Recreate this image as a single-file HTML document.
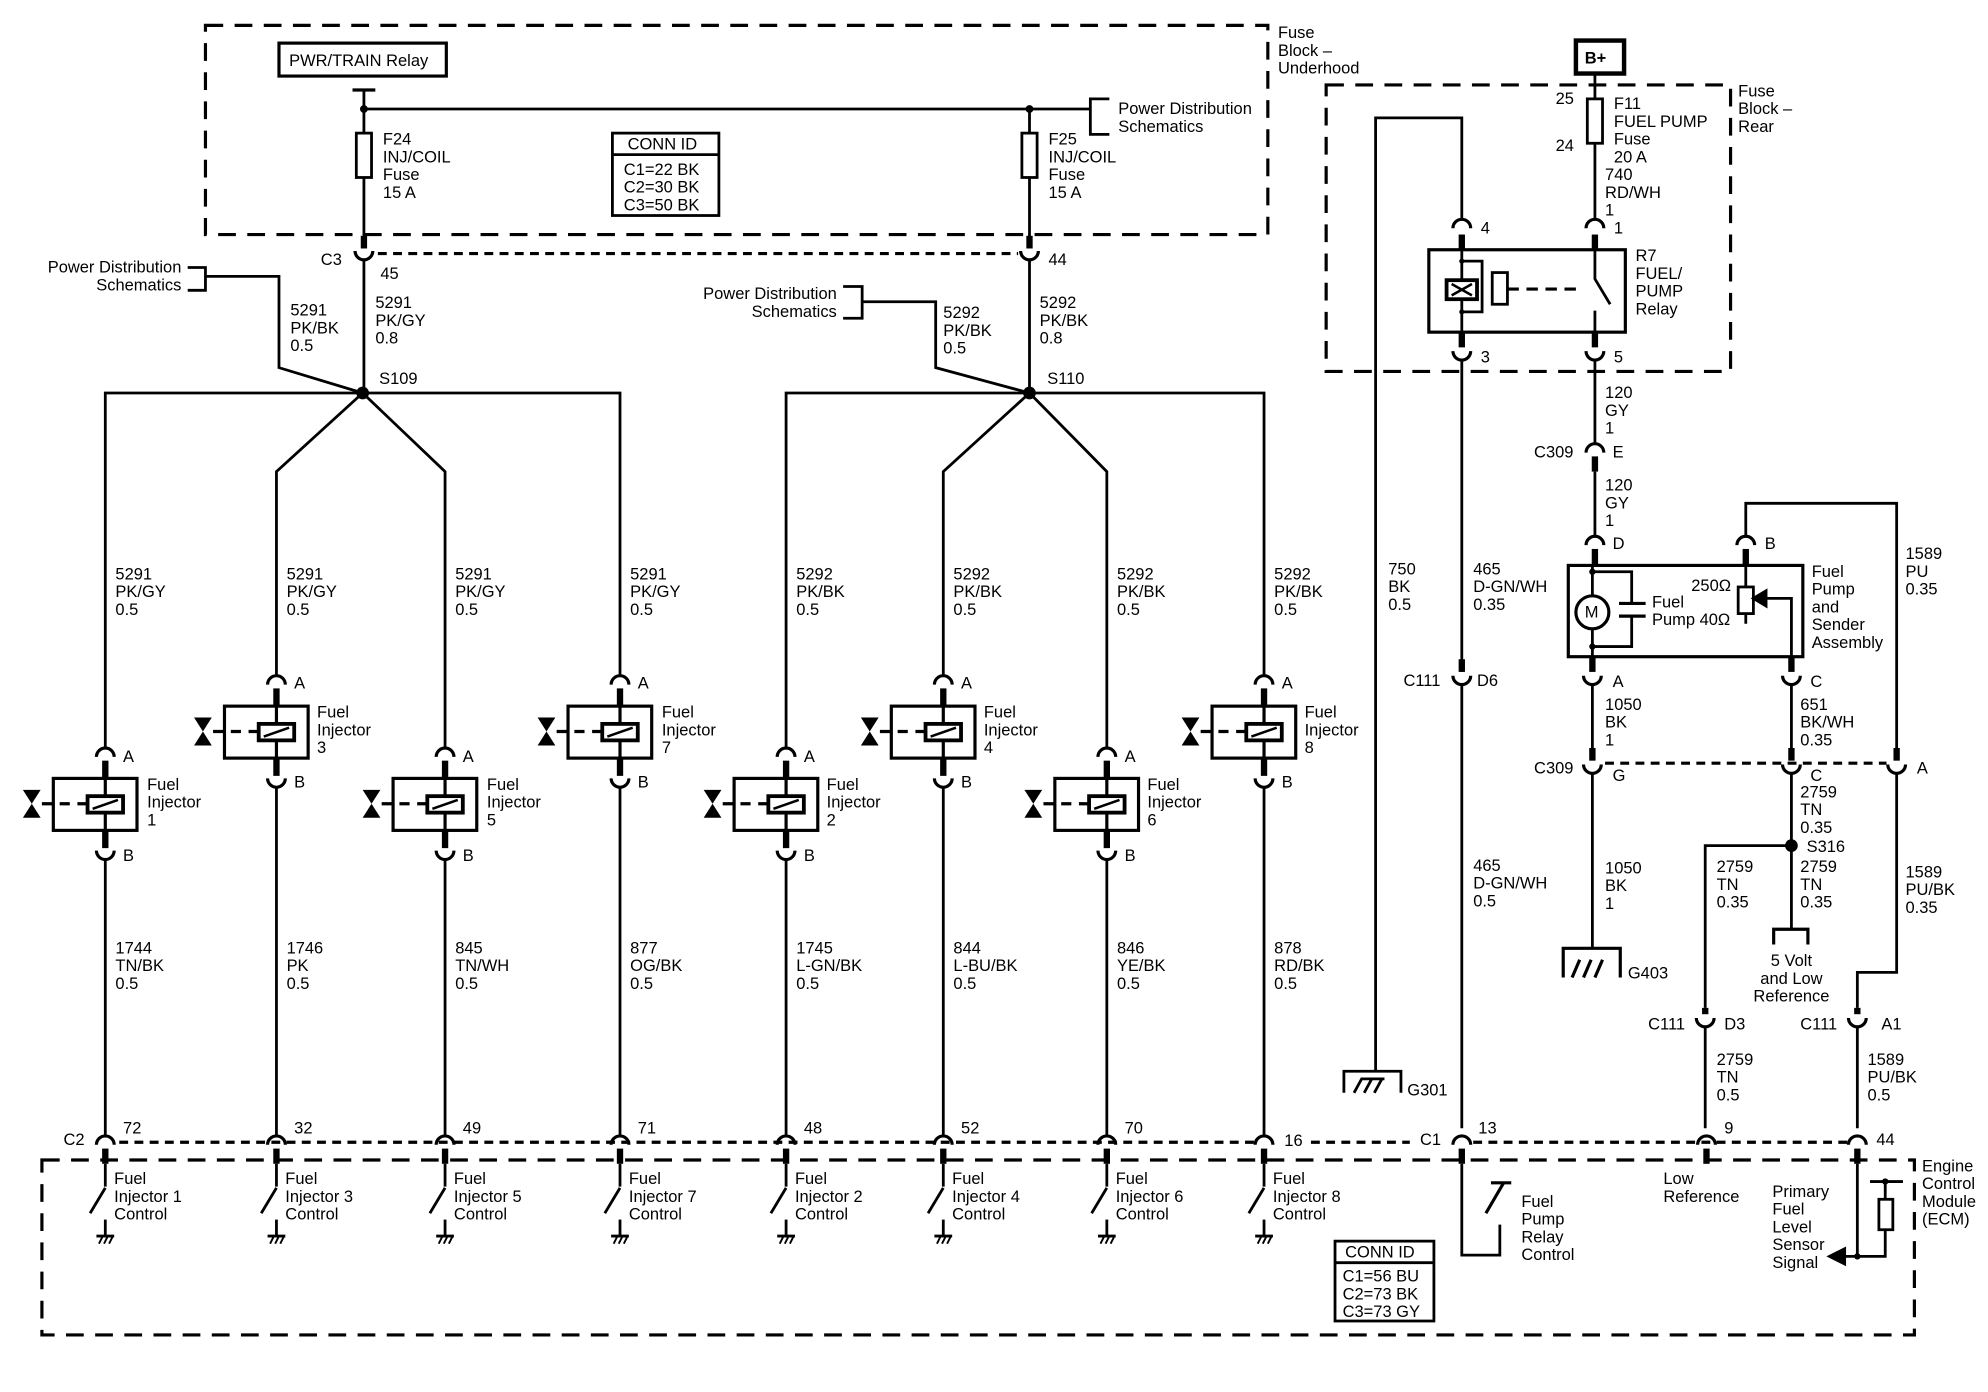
<!DOCTYPE html>
<html><head><meta charset="utf-8"><style>
html,body{margin:0;padding:0;background:#fff;}
svg{display:block;}
text{font-family:"Liberation Sans",Arial,sans-serif;font-size:13px;fill:#000;}
</style></head><body>
<svg width="1988" height="1392" viewBox="0 0 1568 1098" xmlns="http://www.w3.org/2000/svg">
<defs>
<g id="inj" fill="none" stroke="#000">
<path d="M-7 7 A7 7 0 0 1 7 7" stroke-width="2.5"/>
<line x1="0" y1="10" x2="0" y2="24" stroke-width="5"/>
<rect x="-41" y="24" width="66" height="41" stroke-width="2.5"/>
<line x1="0" y1="24" x2="0" y2="65" stroke-width="2.5"/>
<line x1="-50" y1="44" x2="-14" y2="44" stroke-width="2.5" stroke-dasharray="8 6"/>
<rect x="-14" y="38" width="28" height="13" fill="#fff" stroke-width="3"/>
<line x1="-10" y1="48" x2="10" y2="41" stroke-width="2"/>
<polygon points="-65,33 -51,33 -58,44" fill="#000" stroke="none"/>
<polygon points="-65,55 -51,55 -58,44" fill="#000" stroke="none"/>
<line x1="0" y1="65" x2="0" y2="79" stroke-width="5"/>
<path d="M-7 81 A7 7 0 0 0 7 81" stroke-width="2.5"/>
</g>
<g id="ca" fill="none" stroke="#000">
<path d="M-7 7 A7 7 0 0 1 7 7" stroke-width="2.5"/>
<line x1="0" y1="10" x2="0" y2="22" stroke-width="5"/>
</g>
<g id="sw" fill="none" stroke="#000" stroke-width="2.2">
<line x1="0" y1="918" x2="0" y2="936"/>
<line x1="0" y1="937" x2="-12" y2="957"/>
<line x1="0" y1="962" x2="0" y2="975"/>
<line x1="-7" y1="975" x2="7" y2="975"/>
<line x1="-5" y1="981" x2="-2" y2="975" stroke-width="1.5"/>
<line x1="-1" y1="981" x2="2" y2="975" stroke-width="1.5"/>
<line x1="3" y1="981" x2="6" y2="975" stroke-width="1.5"/>
</g>
</defs>

<g fill="none" stroke="#000" stroke-width="2.2">
<rect x="162" y="20" width="838" height="165" stroke-dasharray="14 9" stroke-width="2.5"/>
<rect x="220" y="34" width="132" height="26" stroke-width="2.5"/>
<line x1="278" y1="71" x2="296" y2="71" stroke-width="2.5"/>
<line x1="287" y1="71" x2="287" y2="192"/>
<line x1="287" y1="86" x2="860" y2="86"/>
<line x1="812" y1="86" x2="812" y2="192"/>
<circle cx="287" cy="86" r="2" fill="#000"/><circle cx="812" cy="86" r="2" fill="#000"/>
<rect x="281" y="105" width="12" height="35" fill="#fff"/>
<rect x="806" y="105" width="12" height="35" fill="#fff"/>
<rect x="483" y="105" width="84" height="65" stroke-width="2.2"/>
<line x1="483" y1="122" x2="567" y2="122"/>
<path d="M860 86 V78 H875 M860 86 V106 H875" />
<line x1="287" y1="186" x2="287" y2="196" stroke-width="5"/>
<path d="M280 198 A7 7 0 0 0 294 198" stroke-width="2.5"/>
<line x1="812" y1="186" x2="812" y2="196" stroke-width="5"/>
<path d="M805 198 A7 7 0 0 0 819 198" stroke-width="2.5"/>
<line x1="298" y1="200" x2="803" y2="200" stroke-dasharray="7 5" stroke-width="2.5"/>
<line x1="287" y1="205" x2="287" y2="310"/>
<line x1="812" y1="205" x2="812" y2="310"/>
<path d="M148 211 H162 V229 H148 M162 218 H220 V290 L286 310"/>
<path d="M665 226 H680 V251 H665 M680 238 H738 V290 L812 310"/>
<path d="M83 590 V310 H489 V533"/>
<path d="M286 310 L218 372 V533 M286 310 L351 372 V590"/>
<path d="M620 590 V310 H997 V533"/>
<path d="M812 310 L744 372 V533 M812 310 L873 372 V590"/>
</g>
<circle cx="286" cy="310" r="5" fill="#000"/>
<circle cx="812" cy="310" r="5" fill="#000"/>

<use href="#inj" x="83" y="590"/>
<use href="#inj" x="218" y="533"/>
<use href="#inj" x="351" y="590"/>
<use href="#inj" x="489" y="533"/>
<use href="#inj" x="620" y="590"/>
<use href="#inj" x="744" y="533"/>
<use href="#inj" x="873" y="590"/>
<use href="#inj" x="997" y="533"/>
<g stroke="#000" stroke-width="2.2">
<line x1="83" y1="678" x2="83" y2="896"/><line x1="218" y1="621" x2="218" y2="896"/>
<line x1="351" y1="678" x2="351" y2="896"/><line x1="489" y1="621" x2="489" y2="896"/>
<line x1="620" y1="678" x2="620" y2="896"/><line x1="744" y1="621" x2="744" y2="896"/>
<line x1="873" y1="678" x2="873" y2="896"/><line x1="997" y1="621" x2="997" y2="896"/>
</g>
<use href="#ca" x="83" y="896"/><use href="#ca" x="218" y="896"/><use href="#ca" x="351" y="896"/><use href="#ca" x="489" y="896"/>
<use href="#ca" x="620" y="896"/><use href="#ca" x="744" y="896"/><use href="#ca" x="873" y="896"/><use href="#ca" x="997" y="896"/>
<use href="#ca" x="1153" y="896"/><use href="#ca" x="1346" y="896"/><use href="#ca" x="1465" y="896"/>
<g stroke="#000" stroke-width="2.5" stroke-dasharray="7 5">
<line x1="94" y1="901" x2="990" y2="901"/>
<line x1="1034" y1="901" x2="1112" y2="901"/>
<line x1="1162" y1="901" x2="1458" y2="901"/>
</g>
<use href="#sw" x="83"/><use href="#sw" x="218"/><use href="#sw" x="351"/><use href="#sw" x="489"/>
<use href="#sw" x="620"/><use href="#sw" x="744"/><use href="#sw" x="873"/><use href="#sw" x="997"/>

<g fill="none" stroke="#000" stroke-width="2.5">
<rect x="33" y="915" width="1477" height="138" stroke-dasharray="14 9"/>
<rect x="1053" y="979" width="78" height="63" stroke-width="2.2"/>
<line x1="1053" y1="996" x2="1131" y2="996" stroke-width="2.2"/>
</g>

<g fill="none" stroke="#000" stroke-width="2.2">
<rect x="1243" y="32" width="38" height="26" stroke-width="3.5"/>
<rect x="1046" y="67" width="319" height="226" stroke-dasharray="14 9" stroke-width="2.5"/>
<line x1="1258" y1="58" x2="1258" y2="172"/>
<rect x="1252" y="78" width="12" height="35" fill="#fff"/>
<path d="M1153 172 V93 H1085 V845"/>
<path d="M1060 862 V845 H1105 V862 M1068 862 L1074 851 H1092 M1076 862 L1082 851 M1084 862 L1090 851"/>
<path d="M1146 180 A7 7 0 0 1 1160 180 M1251 180 A7 7 0 0 1 1265 180" stroke-width="2.5"/>
<line x1="1153" y1="185" x2="1153" y2="270" stroke-width="2.2"/>
<line x1="1153" y1="185" x2="1153" y2="197" stroke-width="5"/>
<line x1="1258" y1="185" x2="1258" y2="197" stroke-width="5"/>
<rect x="1127" y="197" width="155" height="65" stroke-width="2.5"/>
<path d="M1153 206 H1169 V246 H1153"/>
<rect x="1141" y="221" width="24" height="15" fill="#fff" stroke-width="3"/>
<path d="M1145 224 L1161 233 M1145 233 L1161 224" stroke-width="2"/>
<rect x="1177" y="215" width="12" height="25" fill="#fff"/>
<line x1="1189" y1="228" x2="1244" y2="228" stroke-dasharray="9 6" stroke-width="2.5"/>
<path d="M1258 197 V220 L1270 240 M1258 245 V262"/>
<line x1="1153" y1="262" x2="1153" y2="274" stroke-width="5"/>
<line x1="1258" y1="262" x2="1258" y2="274" stroke-width="5"/>
<path d="M1146 277 A7 7 0 0 0 1160 277 M1251 277 A7 7 0 0 0 1265 277" stroke-width="2.5"/>
<line x1="1153" y1="284" x2="1153" y2="530"/>
<line x1="1258" y1="284" x2="1258" y2="350"/>
<path d="M1251 357 A7 7 0 0 1 1265 357" stroke-width="2.5"/>
<line x1="1258" y1="360" x2="1258" y2="372" stroke-width="5"/>
<line x1="1258" y1="372" x2="1258" y2="422"/>
<path d="M1251 430 A7 7 0 0 1 1265 430 M1370 430 A7 7 0 0 1 1384 430" stroke-width="2.5"/>
<line x1="1258" y1="433" x2="1258" y2="447" stroke-width="5"/>
<line x1="1377" y1="433" x2="1377" y2="447" stroke-width="5"/>
<path d="M1377 423 V397 H1496 V590"/>
<rect x="1237" y="446" width="185" height="72" stroke-width="2.5"/>
<path d="M1256 447 V470 M1256 496 V518 M1256 451 H1287 V476 M1256 510 H1287 V486"/>
<circle cx="1256" cy="483" r="13" fill="#fff" stroke-width="2.5"/>
<path d="M1277 476 H1298 M1277 486 H1298" stroke-width="2.5"/>
<path d="M1377 447 V463 M1377 484 V492"/>
<rect x="1371" y="463" width="12" height="21" fill="#fff"/>
<path d="M1413 518 V472 H1390"/>
<polygon points="1383,472 1393,466 1393,478" fill="#000"/>
<line x1="1256" y1="518" x2="1256" y2="530" stroke-width="5"/>
<line x1="1413" y1="518" x2="1413" y2="530" stroke-width="5"/>
<path d="M1249 533 A7 7 0 0 0 1263 533 M1406 533 A7 7 0 0 0 1420 533 M1146 533 A7 7 0 0 0 1160 533" stroke-width="2.5"/>
<line x1="1153" y1="520" x2="1153" y2="530" stroke-width="5"/>
<line x1="1153" y1="540" x2="1153" y2="890"/>
<line x1="1256" y1="540" x2="1256" y2="590"/>
<line x1="1413" y1="540" x2="1413" y2="590"/>
<line x1="1256" y1="590" x2="1256" y2="600" stroke-width="5"/>
<line x1="1413" y1="590" x2="1413" y2="600" stroke-width="5"/>
<line x1="1496" y1="590" x2="1496" y2="600" stroke-width="5"/>
<path d="M1249 603 A7 7 0 0 0 1263 603 M1406 603 A7 7 0 0 0 1420 603 M1489 603 A7 7 0 0 0 1503 603" stroke-width="2.5"/>
<line x1="1266" y1="602" x2="1488" y2="602" stroke-dasharray="7 5" stroke-width="2.5"/>
<line x1="1256" y1="610" x2="1256" y2="748"/>
<path d="M1233 771 V748 H1278 V771 M1240 771 L1246 757 M1249 771 L1255 757 M1258 771 L1264 757" stroke-width="2.5"/>
<line x1="1413" y1="610" x2="1413" y2="733"/>
<path d="M1399 745 V733 H1426 V745" stroke-width="2.5"/>
<path d="M1413 667 H1345 V795"/>
<path d="M1496 610 V767 H1465 V795"/>
<path d="M1338 803 A7 7 0 0 0 1352 803 M1458 803 A7 7 0 0 0 1472 803" stroke-width="2.5"/>
<line x1="1345" y1="795" x2="1345" y2="800" stroke-width="5"/>
<line x1="1465" y1="795" x2="1465" y2="800" stroke-width="5"/>
<line x1="1345" y1="810" x2="1345" y2="890"/>
<line x1="1465" y1="810" x2="1465" y2="890"/>
<path d="M1153 918 V990 H1183 V966"/>
<path d="M1176 933 H1192 M1186 933 L1172 957" stroke-width="2.5"/>
<path d="M1465 918 V991 H1455 M1465 991 H1487 V970 M1487 946 V932 M1475 932 H1501"/>
<rect x="1482" y="946" width="11" height="24" fill="#fff"/>
<polygon points="1443,991 1455,985 1455,997" fill="#000"/>
</g>
<circle cx="1413" cy="667" r="5" fill="#000"/>
<circle cx="1465" cy="991" r="2.5" fill="#000"/>
<circle cx="1487" cy="932" r="2.5" fill="#000"/>
<circle cx="1153" cy="206" r="2" fill="#000"/><circle cx="1153" cy="246" r="2" fill="#000"/>
<circle cx="1256" cy="451" r="2.5" fill="#000"/><circle cx="1256" cy="510" r="2.5" fill="#000"/>

<text x="1008" y="30">Fuse</text><text x="1008" y="44">Block –</text><text x="1008" y="58">Underhood</text>
<text x="228" y="52">PWR/TRAIN Relay</text>
<text x="302" y="114">F24</text><text x="302" y="128">INJ/COIL</text><text x="302" y="142">Fuse</text><text x="302" y="156">15 A</text>
<text x="827" y="114">F25</text><text x="827" y="128">INJ/COIL</text><text x="827" y="142">Fuse</text><text x="827" y="156">15 A</text>
<text x="495" y="118">CONN ID</text><text x="492" y="138">C1=22 BK</text><text x="492" y="152">C2=30 BK</text><text x="492" y="166">C3=50 BK</text>
<text x="882" y="90">Power Distribution</text><text x="882" y="104">Schematics</text>
<text x="253" y="209">C3</text><text x="300" y="220">45</text><text x="827" y="209">44</text>
<text x="143" y="215" text-anchor="end">Power Distribution</text><text x="143" y="229" text-anchor="end">Schematics</text>
<text x="229" y="249">5291</text><text x="229" y="263">PK/BK</text><text x="229" y="277">0.5</text>
<text x="296" y="243">5291</text><text x="296" y="257">PK/GY</text><text x="296" y="271">0.8</text>
<text x="299" y="303">S109</text>
<text x="660" y="236" text-anchor="end">Power Distribution</text><text x="660" y="250" text-anchor="end">Schematics</text>
<text x="744" y="251">5292</text><text x="744" y="265">PK/BK</text><text x="744" y="279">0.5</text>
<text x="820" y="243">5292</text><text x="820" y="257">PK/BK</text><text x="820" y="271">0.8</text>
<text x="826" y="303">S110</text>

<text x="91" y="457">5291</text><text x="91" y="471">PK/GY</text><text x="91" y="485">0.5</text>
<text x="226" y="457">5291</text><text x="226" y="471">PK/GY</text><text x="226" y="485">0.5</text>
<text x="359" y="457">5291</text><text x="359" y="471">PK/GY</text><text x="359" y="485">0.5</text>
<text x="497" y="457">5291</text><text x="497" y="471">PK/GY</text><text x="497" y="485">0.5</text>
<text x="628" y="457">5292</text><text x="628" y="471">PK/BK</text><text x="628" y="485">0.5</text>
<text x="752" y="457">5292</text><text x="752" y="471">PK/BK</text><text x="752" y="485">0.5</text>
<text x="881" y="457">5292</text><text x="881" y="471">PK/BK</text><text x="881" y="485">0.5</text>
<text x="1005" y="457">5292</text><text x="1005" y="471">PK/BK</text><text x="1005" y="485">0.5</text>

<text x="97" y="601">A</text><text x="97" y="679">B</text>
<text x="116" y="623">Fuel</text><text x="116" y="637">Injector</text><text x="116" y="651">1</text>
<text x="232" y="543">A</text><text x="232" y="621">B</text>
<text x="250" y="566">Fuel</text><text x="250" y="580">Injector</text><text x="250" y="594">3</text>
<text x="365" y="601">A</text><text x="365" y="679">B</text>
<text x="384" y="623">Fuel</text><text x="384" y="637">Injector</text><text x="384" y="651">5</text>
<text x="503" y="543">A</text><text x="503" y="621">B</text>
<text x="522" y="566">Fuel</text><text x="522" y="580">Injector</text><text x="522" y="594">7</text>
<text x="634" y="601">A</text><text x="634" y="679">B</text>
<text x="652" y="623">Fuel</text><text x="652" y="637">Injector</text><text x="652" y="651">2</text>
<text x="758" y="543">A</text><text x="758" y="621">B</text>
<text x="776" y="566">Fuel</text><text x="776" y="580">Injector</text><text x="776" y="594">4</text>
<text x="887" y="601">A</text><text x="887" y="679">B</text>
<text x="905" y="623">Fuel</text><text x="905" y="637">Injector</text><text x="905" y="651">6</text>
<text x="1011" y="543">A</text><text x="1011" y="621">B</text>
<text x="1029" y="566">Fuel</text><text x="1029" y="580">Injector</text><text x="1029" y="594">8</text>

<text x="91" y="752">1744</text><text x="91" y="766">TN/BK</text><text x="91" y="780">0.5</text>
<text x="226" y="752">1746</text><text x="226" y="766">PK</text><text x="226" y="780">0.5</text>
<text x="359" y="752">845</text><text x="359" y="766">TN/WH</text><text x="359" y="780">0.5</text>
<text x="497" y="752">877</text><text x="497" y="766">OG/BK</text><text x="497" y="780">0.5</text>
<text x="628" y="752">1745</text><text x="628" y="766">L-GN/BK</text><text x="628" y="780">0.5</text>
<text x="752" y="752">844</text><text x="752" y="766">L-BU/BK</text><text x="752" y="780">0.5</text>
<text x="881" y="752">846</text><text x="881" y="766">YE/BK</text><text x="881" y="780">0.5</text>
<text x="1005" y="752">878</text><text x="1005" y="766">RD/BK</text><text x="1005" y="780">0.5</text>

<text x="50" y="903">C2</text>
<text x="97" y="894">72</text><text x="232" y="894">32</text><text x="365" y="894">49</text><text x="503" y="894">71</text>
<text x="634" y="894">48</text><text x="758" y="894">52</text><text x="887" y="894">70</text><text x="1013" y="904">16</text>

<text x="90" y="934">Fuel</text><text x="90" y="948">Injector 1</text><text x="90" y="962">Control</text>
<text x="225" y="934">Fuel</text><text x="225" y="948">Injector 3</text><text x="225" y="962">Control</text>
<text x="358" y="934">Fuel</text><text x="358" y="948">Injector 5</text><text x="358" y="962">Control</text>
<text x="496" y="934">Fuel</text><text x="496" y="948">Injector 7</text><text x="496" y="962">Control</text>
<text x="627" y="934">Fuel</text><text x="627" y="948">Injector 2</text><text x="627" y="962">Control</text>
<text x="751" y="934">Fuel</text><text x="751" y="948">Injector 4</text><text x="751" y="962">Control</text>
<text x="880" y="934">Fuel</text><text x="880" y="948">Injector 6</text><text x="880" y="962">Control</text>
<text x="1004" y="934">Fuel</text><text x="1004" y="948">Injector 8</text><text x="1004" y="962">Control</text>

<text x="1061" y="992">CONN ID</text><text x="1059" y="1011">C1=56 BU</text><text x="1059" y="1025">C2=73 BK</text><text x="1059" y="1039">C3=73 GY</text>

<text x="1250" y="50" font-weight="bold">B+</text>
<text x="1371" y="76">Fuse</text><text x="1371" y="90">Block –</text><text x="1371" y="104">Rear</text>
<text x="1227" y="82">25</text><text x="1227" y="119">24</text>
<text x="1273" y="86">F11</text><text x="1273" y="100">FUEL PUMP</text><text x="1273" y="114">Fuse</text><text x="1273" y="128">20 A</text>
<text x="1266" y="142">740</text><text x="1266" y="156">RD/WH</text><text x="1266" y="170">1</text>
<text x="1168" y="184">4</text><text x="1273" y="184">1</text>
<text x="1290" y="206">R7</text><text x="1290" y="220">FUEL/</text><text x="1290" y="234">PUMP</text><text x="1290" y="248">Relay</text>
<text x="1168" y="286">3</text><text x="1273" y="286">5</text>
<text x="1266" y="314">120</text><text x="1266" y="328">GY</text><text x="1266" y="342">1</text>
<text x="1210" y="361">C309</text><text x="1272" y="361">E</text>
<text x="1266" y="387">120</text><text x="1266" y="401">GY</text><text x="1266" y="415">1</text>
<text x="1272" y="433">D</text><text x="1392" y="433">B</text>
<text x="1095" y="453">750</text><text x="1095" y="467">BK</text><text x="1095" y="481">0.5</text>
<text x="1162" y="453">465</text><text x="1162" y="467">D-GN/WH</text><text x="1162" y="481">0.35</text>
<text x="1503" y="441">1589</text><text x="1503" y="455">PU</text><text x="1503" y="469">0.35</text>
<text x="1429" y="455">Fuel</text><text x="1429" y="469">Pump</text><text x="1429" y="483">and</text><text x="1429" y="497">Sender</text><text x="1429" y="511">Assembly</text>
<text x="1303" y="479">Fuel</text><text x="1303" y="493">Pump 40Ω</text><text x="1334" y="466">250Ω</text>
<text x="1250" y="487" font-size="11">M</text>
<text x="1107" y="541">C111</text><text x="1165" y="541">D6</text>
<text x="1272" y="542">A</text><text x="1428" y="542">C</text>
<text x="1266" y="560">1050</text><text x="1266" y="574">BK</text><text x="1266" y="588">1</text>
<text x="1420" y="560">651</text><text x="1420" y="574">BK/WH</text><text x="1420" y="588">0.35</text>
<text x="1210" y="610">C309</text><text x="1272" y="616">G</text><text x="1428" y="616">C</text><text x="1512" y="610">A</text>
<text x="1420" y="629">2759</text><text x="1420" y="643">TN</text><text x="1420" y="657">0.35</text>
<text x="1425" y="672">S316</text>
<text x="1354" y="688">2759</text><text x="1354" y="702">TN</text><text x="1354" y="716">0.35</text>
<text x="1420" y="688">2759</text><text x="1420" y="702">TN</text><text x="1420" y="716">0.35</text>
<text x="1162" y="687">465</text><text x="1162" y="701">D-GN/WH</text><text x="1162" y="715">0.5</text>
<text x="1266" y="689">1050</text><text x="1266" y="703">BK</text><text x="1266" y="717">1</text>
<text x="1503" y="692">1589</text><text x="1503" y="706">PU/BK</text><text x="1503" y="720">0.35</text>
<text x="1413" y="762" text-anchor="middle">5 Volt</text><text x="1413" y="776" text-anchor="middle">and Low</text><text x="1413" y="790" text-anchor="middle">Reference</text>
<text x="1284" y="772">G403</text>
<text x="1300" y="812">C111</text><text x="1360" y="812">D3</text>
<text x="1420" y="812">C111</text><text x="1484" y="812">A1</text>
<text x="1354" y="840">2759</text><text x="1354" y="854">TN</text><text x="1354" y="868">0.5</text>
<text x="1473" y="840">1589</text><text x="1473" y="854">PU/BK</text><text x="1473" y="868">0.5</text>
<text x="1110" y="864">G301</text>
<text x="1120" y="903">C1</text><text x="1166" y="894">13</text><text x="1360" y="894">9</text><text x="1480" y="903">44</text>
<text x="1200" y="952">Fuel</text><text x="1200" y="966">Pump</text><text x="1200" y="980">Relay</text><text x="1200" y="994">Control</text>
<text x="1312" y="934">Low</text><text x="1312" y="948">Reference</text>
<text x="1398" y="944">Primary</text><text x="1398" y="958">Fuel</text><text x="1398" y="972">Level</text><text x="1398" y="986">Sensor</text><text x="1398" y="1000">Signal</text>
<text x="1516" y="924">Engine</text><text x="1516" y="938">Control</text><text x="1516" y="952">Module</text><text x="1516" y="966">(ECM)</text>
</svg>
</body></html>
